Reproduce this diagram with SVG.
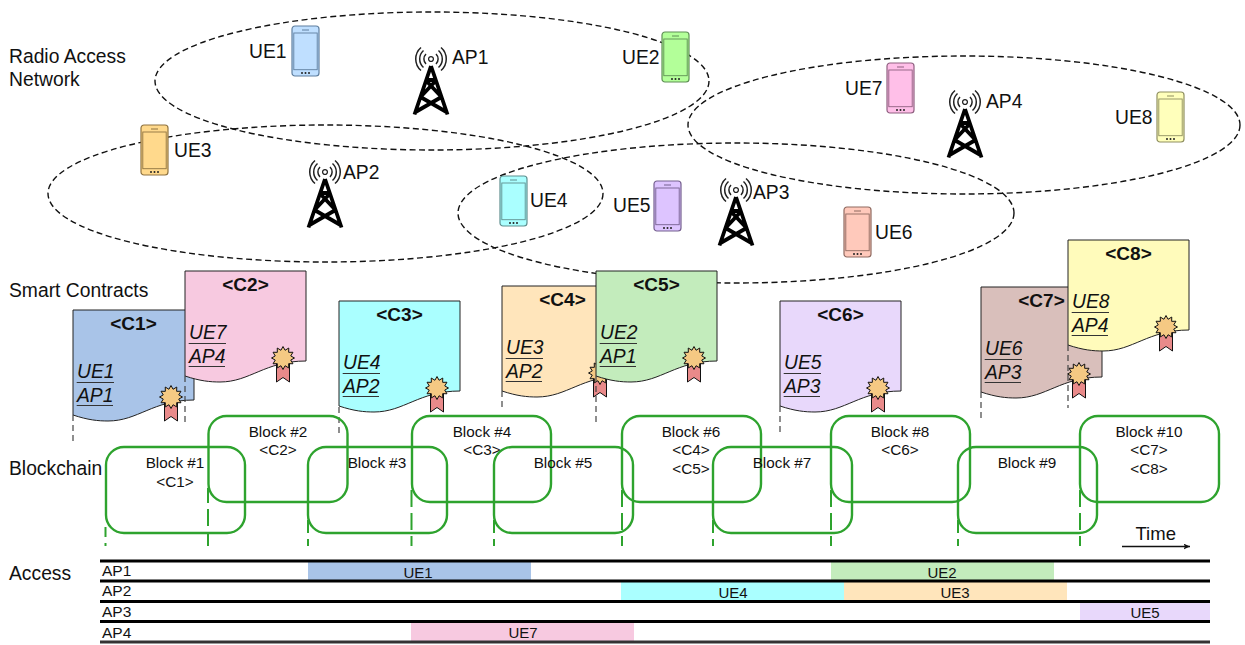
<svg xmlns="http://www.w3.org/2000/svg" width="1245" height="645" viewBox="0 0 1245 645">
<style>
text{font-family:"Liberation Sans",Arial,sans-serif;fill:#111}
.l{font-size:19.3px}
.t{font-size:18.5px}
.b{font-size:15.3px;text-anchor:middle}
.a{font-size:15.5px}
.bar{font-size:15px;text-anchor:middle}
.h{font-size:19px;font-weight:bold;text-anchor:middle}
.i{font-size:19.3px;font-style:italic}
.u{stroke:#333;stroke-width:1;fill:none}
.cell{fill:none;stroke:#111;stroke-width:1.4;stroke-dasharray:6 3.5}
.blk{fill:none;stroke:#2ea32e;stroke-width:2.4}
.gd{stroke:#2ea32e;stroke-width:2;fill:none}
.kd{stroke:#444;stroke-width:1.2;stroke-dasharray:6 4;fill:none}
.track{stroke:#000;stroke-width:3}
.doc{stroke:#222;stroke-width:1}
</style>
<defs>
<marker id="arr" markerWidth="8" markerHeight="7" refX="6.500" refY="3" orient="auto" markerUnits="userSpaceOnUse"><path d="M0 0L6.500 3L0 6L1.500 3z" fill="#111"/></marker>
<g id="phone">
<rect x="0" y="0" width="27" height="50" rx="3" stroke-width="1.2"/>
<rect x="1.800" y="7" width="23.400" height="36.700" fill="none" stroke-width="0.9"/>
<path d="M10 4H17" fill="none" stroke-width="1"/>
<circle cx="10" cy="47" r="1" fill="#222" stroke="none"/><circle cx="13.500" cy="47" r="1" fill="#222" stroke="none"/><circle cx="17" cy="47" r="1" fill="#222" stroke="none"/>
</g>
<g id="tower" fill="none" stroke="#000">
<circle cx="0" cy="0" r="2.400" stroke-width="1.300" stroke="#222"/>
<path stroke-width="1.500" stroke="#222" d="M-5-5A7 7 0 0 0-5 5M5-5A7 7 0 0 1 5 5M-7.500-8.500A11.400 11.400 0 0 0-7.500 8.500M7.500-8.500A11.400 11.400 0 0 1 7.500 8.500M-10-11.500A15.200 15.200 0 0 0-10 11.500M10-11.500A15.200 15.200 0 0 1 10 11.500"/>
<path stroke-width="3.800" d="M0 7L-16.500 55.500M0 7L16.500 55.500M-5.500 21H5.500M-5.500 21L10.500 38M5.500 21L-10.500 38M-10.500 38L15.500 53M10.500 38L-15.500 53"/>
</g>
<g id="seal">
<path d="M-6.500 0V24L0 19.500L6.500 24V0z" fill="#e98a8a" stroke="#111" stroke-width="1"/>
<polygon points="0,-11.500 2.070,-7.730 5.750,-9.960 5.660,-5.660 9.960,-5.750 7.730,-2.070 11.500,0 7.730,2.070 9.960,5.750 5.660,5.660 5.750,9.960 2.070,7.730 0,11.500 -2.070,7.730 -5.750,9.960 -5.660,5.660 -9.960,5.750 -7.730,2.070 -11.500,0 -7.730,-2.070 -9.960,-5.750 -5.660,-5.660 -5.750,-9.960 -2.070,-7.730" fill="#f5c983" stroke="#111" stroke-width="1"/>
</g>
<path id="sheet" d="M0 0H121V90C80 90 65 111 35 111C25 111 15 110 0 105Z"/>
<path id="rules" d="M3.700 72.500H41M3.700 95.500H40"/>
</defs>

<g id="labels">
<text class="l" x="9" y="63">Radio Access</text>
<text class="l" x="9" y="86">Network</text>
<text class="l" x="9" y="297">Smart Contracts</text>
<text class="l" x="9" y="475">Blockchain</text>
<text class="l" x="9" y="580">Access</text>
</g>

<g id="cells">
<ellipse class="cell" cx="432" cy="81" rx="277" ry="69"/>
<ellipse class="cell" cx="325.500" cy="193.500" rx="277.500" ry="68.500"/>
<ellipse class="cell" cx="736" cy="213" rx="278" ry="70"/>
<ellipse class="cell" cx="964" cy="125" rx="276" ry="69"/>
</g>

<g id="AP1"><use href="#tower" x="431" y="59"/><text class="l" x="452" y="64">AP1</text></g>
<g id="AP2"><use href="#tower" x="325" y="172"/><text class="l" x="343" y="179">AP2</text></g>
<g id="AP3"><use href="#tower" x="736" y="190"/><text class="l" x="753" y="199">AP3</text></g>
<g id="AP4"><use href="#tower" x="965" y="102"/><text class="l" x="986" y="108">AP4</text></g>

<g id="UE1"><use href="#phone" x="292" y="26" fill="#bfdfff" stroke="#5f7f9f"/><text class="l" x="249" y="58">UE1</text></g>
<g id="UE2"><use href="#phone" x="662" y="32" fill="#b3ff99" stroke="#5f8f55"/><text class="l" x="622" y="64">UE2</text></g>
<g id="UE3"><use href="#phone" x="141" y="125" fill="#ffd98c" stroke="#8f7340"/><text class="l" x="174" y="157">UE3</text></g>
<g id="UE4"><use href="#phone" x="500" y="176" fill="#aaffff" stroke="#5f8f8f"/><text class="l" x="530" y="207">UE4</text></g>
<g id="UE5"><use href="#phone" x="654" y="181" fill="#ddc4ff" stroke="#75608f"/><text class="l" x="613" y="212">UE5</text></g>
<g id="UE6"><use href="#phone" x="844" y="207" fill="#ffc9bb" stroke="#8f6a60"/><text class="l" x="875" y="239">UE6</text></g>
<g id="UE7"><use href="#phone" x="887" y="63" fill="#ffbfe8" stroke="#8f6080"/><text class="l" x="845" y="95">UE7</text></g>
<g id="UE8"><use href="#phone" x="1157" y="92" fill="#ffffbb" stroke="#8f8f60"/><text class="l" x="1115" y="124">UE8</text></g>

<g id="C1" transform="translate(73 310)"><use href="#sheet" class="doc" fill="#a9c4e8"/><use href="#seal" x="98" y="87"/><text class="h" x="60.500" y="20">&lt;C1&gt;</text><text class="i" x="4" y="68">UE1</text><text class="i" x="4" y="92">AP1</text><use href="#rules" class="u"/></g>
<g id="C2" transform="translate(185 271)"><use href="#sheet" class="doc" fill="#f7c9e0"/><use href="#seal" x="98" y="87"/><text class="h" x="60.500" y="20">&lt;C2&gt;</text><text class="i" x="4" y="68">UE7</text><text class="i" x="4" y="92">AP4</text><use href="#rules" class="u"/></g>
<g id="C3" transform="translate(339 301)"><use href="#sheet" class="doc" fill="#aaffff"/><use href="#seal" x="98" y="87"/><text class="h" x="60.500" y="20">&lt;C3&gt;</text><text class="i" x="4" y="68">UE4</text><text class="i" x="4" y="92">AP2</text><use href="#rules" class="u"/></g>
<g id="C4" transform="translate(502 286)"><use href="#sheet" class="doc" fill="#ffe5bb"/><use href="#seal" x="98" y="87"/><text class="h" x="60.500" y="20">&lt;C4&gt;</text><text class="i" x="4" y="68">UE3</text><text class="i" x="4" y="92">AP2</text><use href="#rules" class="u"/></g>
<g id="C5" transform="translate(596 271)"><use href="#sheet" class="doc" fill="#c3ecbc"/><use href="#seal" x="98" y="87"/><text class="h" x="60.500" y="20">&lt;C5&gt;</text><text class="i" x="4" y="68">UE2</text><text class="i" x="4" y="92">AP1</text><use href="#rules" class="u"/></g>
<g id="C6" transform="translate(780 301)"><use href="#sheet" class="doc" fill="#e8d8fb"/><use href="#seal" x="98" y="87"/><text class="h" x="60.500" y="20">&lt;C6&gt;</text><text class="i" x="4" y="68">UE5</text><text class="i" x="4" y="92">AP3</text><use href="#rules" class="u"/></g>
<g id="C7" transform="translate(981 287)"><use href="#sheet" class="doc" fill="#d9bfbb"/><use href="#seal" x="98" y="87"/><text class="h" x="60.500" y="20">&lt;C7&gt;</text><text class="i" x="4" y="68">UE6</text><text class="i" x="4" y="92">AP3</text><use href="#rules" class="u"/></g>
<g id="C8" transform="translate(1068 240)"><use href="#sheet" class="doc" fill="#fffbbb"/><use href="#seal" x="98" y="87"/><text class="h" x="60.500" y="20">&lt;C8&gt;</text><text class="i" x="4" y="68">UE8</text><text class="i" x="4" y="92">AP4</text><use href="#rules" class="u"/></g>

<g id="connectors">
<path class="kd" d="M73 415V443M185 376V424M339 407V436M502 391V407M596 376V424M780 406V434M981 392V420M1068 345V408"/>
<path class="gd" d="M105.500 527V537M105.500 543V546M208 488V503M208 509V526M208 532V546M308 520V533M308 539V546M411.500 490V507M411.500 513V530M411.500 536V546M494 520V533M494 539V546M622 490V507M622 513V530M622 536V546M713 520V533M713 539V546M831 490V507M831 513V530M831 536V546M958 520V533M958 539V546M1080 490V507M1080 513V530M1080 536V546"/>
<path d="M1122 546.500H1190" stroke="#111" stroke-width="1.300" marker-end="url(#arr)"/>
</g>

<g id="B1"><rect class="blk" x="106" y="447" width="139" height="86" rx="18"/><text class="b" x="175" y="468">Block #1</text><text class="b" x="175" y="487">&lt;C1&gt;</text></g>
<g id="B2"><rect class="blk" x="208.500" y="416" width="139" height="86" rx="18"/><text class="b" x="278" y="436.500">Block #2</text><text class="b" x="278" y="455">&lt;C2&gt;</text></g>
<g id="B3"><rect class="blk" x="308" y="447" width="139" height="86" rx="18"/><text class="b" x="377" y="468">Block #3</text></g>
<g id="B4"><rect class="blk" x="412" y="416" width="139" height="86" rx="18"/><text class="b" x="482" y="436.500">Block #4</text><text class="b" x="482" y="455">&lt;C3&gt;</text></g>
<g id="B5"><rect class="blk" x="494" y="447" width="139" height="86" rx="18"/><text class="b" x="563" y="468">Block #5</text></g>
<g id="B6"><rect class="blk" x="622" y="416" width="139" height="86" rx="18"/><text class="b" x="691" y="436.500">Block #6</text><text class="b" x="691" y="455">&lt;C4&gt;</text><text class="b" x="691" y="474">&lt;C5&gt;</text></g>
<g id="B7"><rect class="blk" x="713" y="447" width="139" height="86" rx="18"/><text class="b" x="782" y="468">Block #7</text></g>
<g id="B8"><rect class="blk" x="831" y="416" width="139" height="86" rx="18"/><text class="b" x="900" y="436.500">Block #8</text><text class="b" x="900" y="455">&lt;C6&gt;</text></g>
<g id="B9"><rect class="blk" x="958" y="447" width="139" height="86" rx="18"/><text class="b" x="1027" y="468">Block #9</text></g>
<g id="B10"><rect class="blk" x="1080" y="416" width="139" height="86" rx="18"/><text class="b" x="1149" y="436.500">Block #10</text><text class="b" x="1149" y="455">&lt;C7&gt;</text><text class="b" x="1149" y="474">&lt;C8&gt;</text></g>

<g id="access">
<rect x="308" y="562" width="223" height="19" fill="#a9c4e8"/><text class="bar" x="418" y="578">UE1</text>
<rect x="831" y="562" width="223" height="19" fill="#c3ecbc"/><text class="bar" x="942" y="578">UE2</text>
<rect x="621" y="582" width="223" height="19" fill="#aaffff"/><text class="bar" x="733" y="598">UE4</text>
<rect x="844" y="582" width="223" height="19" fill="#ffe5bb"/><text class="bar" x="955" y="598">UE3</text>
<rect x="1080" y="602" width="130" height="19" fill="#e8d8fb"/><text class="bar" x="1145" y="618">UE5</text>
<rect x="411" y="622" width="223" height="19" fill="#f7c9e0"/><text class="bar" x="523" y="638">UE7</text>
<path class="track" d="M100 561H1210M100 581H1210M100 601.500H1210M100 621.500H1210"/>
<path class="track" d="M100 642H1210" style="stroke:#333"/>
<text class="a" x="102" y="576">AP1</text><text class="a" x="102" y="596">AP2</text><text class="a" x="102" y="617">AP3</text><text class="a" x="102" y="638">AP4</text>
<text class="t" x="1135.500" y="540">Time</text>
</g>
</svg>
